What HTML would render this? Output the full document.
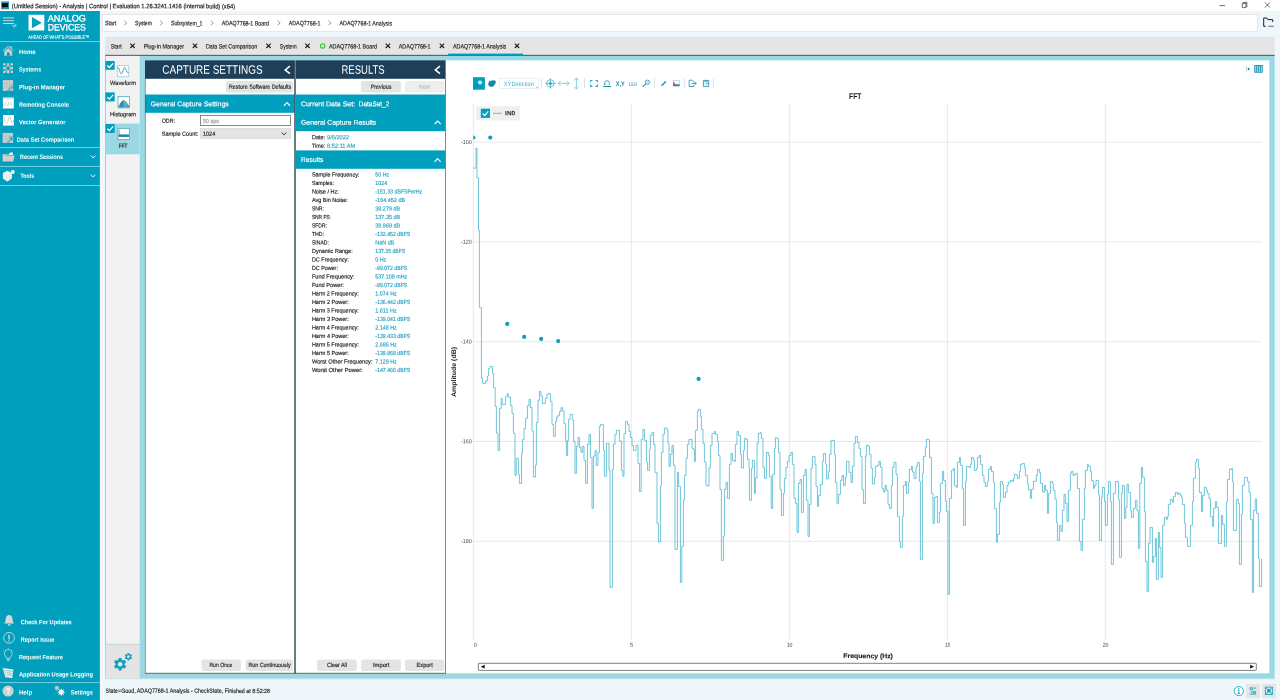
<!DOCTYPE html>
<html lang="en"><head><meta charset="utf-8"><title>(Untitled Session) - Analysis | Control | Evaluation</title>
<style>html,body{margin:0;padding:0;width:1280px;height:700px;overflow:hidden;background:#eff7fa}svg{display:block;font-family:"Liberation Sans",sans-serif}text{white-space:pre;text-rendering:geometricPrecision}</style></head><body>
<svg width="1280" height="700" viewBox="0 0 1280 700">
<rect x="0.00" y="0.00" width="1280.00" height="700.00" fill="#eff7fa" />
<rect x="0.00" y="0.00" width="1280.00" height="11.00" fill="#ffffff" />
<rect x="1.10" y="1.40" width="7.90" height="7.90" fill="#2d9ab8" />
<rect x="2.00" y="3.20" width="6.10" height="4.00" fill="#0a0a0a" />
<text x="11.80" y="8.21" transform="rotate(0.05 11.8 8.2)" font-size="6.3" fill="#111" stroke="#111" stroke-width="0.16" textLength="223.40" lengthAdjust="spacingAndGlyphs" >(Untitled Session) - Analysis | Control | Evaluation 1.26.3241.1416 (internal build) (x64)</text>
<line x1="1219.40" y1="5.60" x2="1225.10" y2="5.60" stroke="#333" stroke-width="0.7" />
<path d="M1242.300 3.400h3.600v4.200h-3.600z M1243.300 3.400v-1h3.600v4.200h-1" fill="none" stroke="#333" stroke-width="0.7"/>
<path d="M1264.900 2.400l5 5.200 M1269.900 2.400l-5 5.200" fill="none" stroke="#333" stroke-width="0.7"/>
<rect x="0.00" y="11.00" width="99.90" height="689.00" fill="#009fbd" />
<line x1="3.00" y1="17.90" x2="14.20" y2="17.90" stroke="#dcd2d2" stroke-width="1.0" />
<line x1="3.00" y1="20.70" x2="14.20" y2="20.70" stroke="#dcd2d2" stroke-width="1.0" />
<line x1="3.00" y1="23.50" x2="14.20" y2="23.50" stroke="#dcd2d2" stroke-width="1.0" />
<path d="M11.800 25.400h4.600l-1.400-1.200 M16.400 25.400l-1.400 1.400h-2" fill="none" stroke="#dcd2d2" stroke-width="0.7"/>
<rect x="28.50" y="14.80" width="15.80" height="15.70" fill="#ffffff" />
<path d="M31.900 17.100L41.800 22.650L31.900 28.200z" fill="#009fbd"/>
<text x="47.70" y="21.52" transform="rotate(0.05 47.7 21.5)" font-size="9.4" fill="#fff" textLength="38.20" lengthAdjust="spacingAndGlyphs" stroke="#fff" stroke-width="0.3">ANALOG</text>
<text x="47.70" y="30.52" transform="rotate(0.05 47.7 30.5)" font-size="9.4" fill="#fff" textLength="38.20" lengthAdjust="spacingAndGlyphs" stroke="#fff" stroke-width="0.3">DEVICES</text>
<text x="28.20" y="38.75" transform="rotate(0.05 28.2 38.7)" font-size="4.6" fill="#e6f5f8" stroke="#e6f5f8" stroke-width="0.16" textLength="61.00" lengthAdjust="spacingAndGlyphs" >AHEAD OF WHAT’S POSSIBLE™</text>
<line x1="0.00" y1="41.60" x2="99.90" y2="41.60" stroke="#86d2e0" stroke-width="0.9" />
<text x="18.90" y="53.96" transform="rotate(0.05 18.9 54.0)" font-size="6.3" fill="#ffffff" font-weight="700" textLength="16.80" lengthAdjust="spacingAndGlyphs" >Home</text>
<text x="18.90" y="71.56" transform="rotate(0.05 18.9 71.6)" font-size="6.3" fill="#ffffff" font-weight="700" textLength="22.30" lengthAdjust="spacingAndGlyphs" >Systems</text>
<text x="19.00" y="89.16" transform="rotate(0.05 19.0 89.2)" font-size="6.3" fill="#ffffff" font-weight="700" textLength="46.10" lengthAdjust="spacingAndGlyphs" >Plug-in Manager</text>
<text x="18.90" y="106.66" transform="rotate(0.05 18.9 106.7)" font-size="6.3" fill="#ffffff" font-weight="700" textLength="50.10" lengthAdjust="spacingAndGlyphs" >Remoting Console</text>
<text x="18.90" y="124.16" transform="rotate(0.05 18.9 124.2)" font-size="6.3" fill="#ffffff" font-weight="700" textLength="46.60" lengthAdjust="spacingAndGlyphs" >Vector Generator</text>
<text x="16.70" y="141.66" transform="rotate(0.05 16.7 141.7)" font-size="6.3" fill="#ffffff" font-weight="700" textLength="57.60" lengthAdjust="spacingAndGlyphs" >Data Set Comparison</text>
<line x1="0.00" y1="147.50" x2="99.90" y2="147.50" stroke="#86d2e0" stroke-width="0.9" />
<text x="20.10" y="158.96" transform="rotate(0.05 20.1 159.0)" font-size="6.3" fill="#ffffff" font-weight="700" textLength="42.80" lengthAdjust="spacingAndGlyphs" >Recent Sessions</text>
<line x1="0.00" y1="166.40" x2="99.90" y2="166.40" stroke="#86d2e0" stroke-width="0.9" />
<text x="20.50" y="178.06" transform="rotate(0.05 20.5 178.1)" font-size="6.3" fill="#ffffff" font-weight="700" textLength="13.80" lengthAdjust="spacingAndGlyphs" >Tools</text>
<line x1="0.00" y1="185.50" x2="99.90" y2="185.50" stroke="#86d2e0" stroke-width="0.9" />
<path d="M91 155.60l2.2 2.4l2.2-2.4" fill="none" stroke="#fff" stroke-width="0.9"/>
<path d="M91 174.70l2.2 2.4l2.2-2.4" fill="none" stroke="#fff" stroke-width="0.9"/>
<text x="20.70" y="624.26" transform="rotate(0.05 20.7 624.3)" font-size="6.3" fill="#ffffff" font-weight="700" textLength="51.00" lengthAdjust="spacingAndGlyphs" >Check For Updates</text>
<text x="20.70" y="641.76" transform="rotate(0.05 20.7 641.8)" font-size="6.3" fill="#ffffff" font-weight="700" textLength="33.70" lengthAdjust="spacingAndGlyphs" >Report Issue</text>
<text x="18.90" y="659.16" transform="rotate(0.05 18.9 659.2)" font-size="6.3" fill="#ffffff" font-weight="700" textLength="44.00" lengthAdjust="spacingAndGlyphs" >Request Feature</text>
<text x="18.90" y="676.56" transform="rotate(0.05 18.9 676.6)" font-size="6.3" fill="#ffffff" font-weight="700" textLength="74.00" lengthAdjust="spacingAndGlyphs" >Application Usage Logging</text>
<line x1="0.00" y1="682.60" x2="99.90" y2="682.60" stroke="#86d2e0" stroke-width="0.9" />
<text x="18.90" y="694.46" transform="rotate(0.05 18.9 694.5)" font-size="6.3" fill="#ffffff" font-weight="700" textLength="13.30" lengthAdjust="spacingAndGlyphs" >Help</text>
<text x="70.70" y="694.46" transform="rotate(0.05 70.7 694.5)" font-size="6.3" fill="#ffffff" font-weight="700" textLength="22.20" lengthAdjust="spacingAndGlyphs" >Settings</text>
<path d="M2.9 50.6L8.3 46.3L13.7 50.6" fill="none" stroke="#d4cbcb" stroke-width="1"/>
<path d="M4.3 51.2L8.3 48.1L12.2 51.2V55.7H9.7V52.4H6.9V55.7H4.3z" fill="#d4cbcb"/>
<rect x="10.60" y="46.20" width="1.20" height="2.40" fill="#d4cbcb" />
<rect x="3.20" y="63.20" width="2.40" height="2.40" fill="#d4cbcb" />
<rect x="6.90" y="63.20" width="2.40" height="2.40" fill="#d4cbcb" />
<rect x="10.60" y="63.20" width="2.40" height="2.40" fill="#d4cbcb" />
<rect x="3.20" y="66.90" width="2.40" height="2.40" fill="#d4cbcb" />
<rect x="10.60" y="66.90" width="2.40" height="2.40" fill="#d4cbcb" />
<rect x="3.20" y="70.60" width="2.40" height="2.40" fill="#d4cbcb" />
<rect x="6.90" y="70.90" width="2.40" height="2.40" fill="#d4cbcb" />
<rect x="10.60" y="70.60" width="2.40" height="2.40" fill="#d4cbcb" />
<circle cx="8.1" cy="68.3" r="2.3" fill="none" stroke="#d4cbcb" stroke-width="0.9"/>
<path d="M3.2 73.4l4-3" stroke="#d4cbcb" stroke-width="0.8" fill="none"/>
<rect x="2.80" y="80.10" width="10.30" height="10.80" fill="#d2c9c9" />
<path d="M6.300 80.100v10.800 M9.700 80.100v10.800 M2.800 83.500h10.300 M2.800 87h10.300" stroke="#8fc4cf" stroke-width="0.45" fill="none"/>
<path d="M8.300 91l4.800-5.800" stroke="#009fbd" stroke-width="2.200" fill="none"/>
<path d="M8.500 90.700l4.500-5.400" stroke="#f3eeee" stroke-width="0.9" fill="none"/>
<rect x="2.90" y="97.60" width="10.90" height="10.90" fill="#ffffff" />
<rect x="2.90" y="97.60" width="10.90" height="1.60" fill="#e3d9d9" />
<path d="M6.3 102.6l-1.6 1.4l1.6 1.4 M10.4 102.6l1.6 1.4l-1.6 1.4 M9 102.2l-1.3 3.8" stroke="#a9a9a9" stroke-width="0.6" fill="none"/>
<rect x="3.00" y="115.00" width="10.90" height="10.60" fill="#ffffff" />
<path d="M3.4 116.6C4.6 116.6 5 123.6 6.5 123.6S8.4 116.8 9.7 116.8S11.2 123.6 12.4 123.6S13.2 121 13.6 119.6" stroke="#bdbdbd" stroke-width="0.7" fill="none"/>
<rect x="2.60" y="132.90" width="10.50" height="10.00" fill="#d2c9c9" />
<path d="M6.100 132.900v10 M9.500 132.900v10 M2.600 136.200h10.500 M2.600 139.500h10.500" stroke="#8fc4cf" stroke-width="0.45" fill="none"/>
<circle cx="11.400" cy="138.600" r="2.300" fill="#009fbd"/>
<circle cx="11.400" cy="138.600" r="1.700" fill="none" stroke="#f3eeee" stroke-width="0.6"/>
<path d="M10 140.200l-2.800 2.900" stroke="#009fbd" stroke-width="1.600" fill="none"/>
<path d="M10 140.200l-2.800 2.900" stroke="#efe6e6" stroke-width="0.7" fill="none"/>
<path d="M2.7 154.4h6l1.4-2h2.8v2.6h-8.4z" fill="#efefef"/>
<path d="M2.6 154.6h2.6l.8.9h8.7l-1.6 6.1H2.6z" fill="#d2cfcf"/>
<path d="M7.4 170.7l4.4 2.2v5.6l-4.4 3.1l-4.5-3.1v-5.6z" fill="#f7f7f7"/>
<path d="M2.9 172.9l4.5 2.3l4.4-2.3 M7.4 175.2v6.4 M2.9 175.8l4.5 2.4l4.4-2.4 M5.1 171.8v8.6 M9.6 171.8v8.6" stroke="#d8d8d8" stroke-width="0.4" fill="none"/>
<circle cx="12.8" cy="172.0" r="2.0" fill="#f7f7f7"/><circle cx="12.8" cy="172.0" r="0.9" fill="#cfe6ea"/>
<path d="M4 623.4c1.6-1 1.5-2.9 1.7-4.6c.3-2.3 1.6-3.7 3.4-3.7s3.100 1.4 3.400 3.7c.2 1.700.1 3.600 1.700 4.600z" fill="#d9d9d9"/>
<path d="M7.6 624.2a1.500 1.500 0 0 0 3 0z" fill="#d9d9d9"/>
<circle cx="9.0" cy="637.8" r="5.4" fill="none" stroke="#e4e4e4" stroke-width="0.8"/>
<rect x="8.40" y="634.60" width="1.20" height="4.80" fill="#e4e4e4" />
<rect x="8.40" y="640.30" width="1.20" height="1.10" fill="#e4e4e4" />
<path d="M6.4 658.200c-.2-2-2-2.600-2-4.900a3.900 3.900 0 0 1 7.800 0c0 2.300-1.800 2.900-2 4.900z M6.700 659.400h3.200 M7.100 660.600h2.400" fill="none" stroke="#e4e4e4" stroke-width="0.7"/>
<path d="M3 650.400l.8.600 M13.400 650.400l-.8.600 M8.300 649v-.8" stroke="#cfe9ee" stroke-width="0.5" fill="none"/>
<path d="M4.6 668.300l8.800 1.300l-1.200 8.600l-5.800-1.100z" fill="#efefef"/>
<path d="M2.600 667.800l2.600.4l2.200 9.600l-2.200-.4z" fill="#d9d9d9"/>
<path d="M6.400 670.600l6 .8 M6.800 672.600l5.400.8 M7.200 674.600l4.800.8" stroke="#009fbd" stroke-width="0.5" fill="none"/>
<circle cx="8.1" cy="691.0" r="5.6" fill="#d0d0d0"/>
<text x="5.90" y="694.22" transform="rotate(0.05 5.9 694.2)" font-size="9" fill="#ffffff" font-weight="700" textLength="4.50" lengthAdjust="spacingAndGlyphs" >?</text>
<polygon points="56.90,685.00 57.51,686.52 59.02,685.88 58.38,687.39 59.90,688.00 58.38,688.61 59.02,690.12 57.51,689.48 56.90,691.00 56.29,689.48 54.78,690.12 55.42,688.61 53.90,688.00 55.42,687.39 54.78,685.88 56.29,686.52" fill="#c9c9c9"/>
<polygon points="61.20,688.20 62.04,690.17 64.03,689.37 63.23,691.36 65.20,692.20 63.23,693.04 64.03,695.03 62.04,694.23 61.20,696.20 60.36,694.23 58.37,695.03 59.17,693.04 57.20,692.20 59.17,691.36 58.37,689.37 60.36,690.17" fill="#f2f2f2"/>
<rect x="102.60" y="14.60" width="1155.10" height="16.60" fill="#ffffff" stroke="#d9d9d9" stroke-width="0.6" />
<text x="105.00" y="25.36" transform="rotate(0.05 105.0 25.4)" font-size="6.3" fill="#222" stroke="#222" stroke-width="0.16" textLength="11.10" lengthAdjust="spacingAndGlyphs" >Start</text>
<path d="M124.30 20.6l2.3 2.3l-2.3 2.3" fill="none" stroke="#444" stroke-width="0.6"/>
<text x="135.00" y="25.36" transform="rotate(0.05 135.0 25.4)" font-size="6.3" fill="#222" stroke="#222" stroke-width="0.16" textLength="16.90" lengthAdjust="spacingAndGlyphs" >System</text>
<path d="M160.20 20.6l2.3 2.3l-2.3 2.3" fill="none" stroke="#444" stroke-width="0.6"/>
<text x="171.00" y="25.36" transform="rotate(0.05 171.0 25.4)" font-size="6.3" fill="#222" stroke="#222" stroke-width="0.16" textLength="31.50" lengthAdjust="spacingAndGlyphs" >Subsystem_1</text>
<path d="M210.90 20.6l2.3 2.3l-2.3 2.3" fill="none" stroke="#444" stroke-width="0.6"/>
<text x="221.70" y="25.36" transform="rotate(0.05 221.7 25.4)" font-size="6.3" fill="#222" stroke="#222" stroke-width="0.16" textLength="47.20" lengthAdjust="spacingAndGlyphs" >ADAQ7768-1 Board</text>
<path d="M277.80 20.6l2.3 2.3l-2.3 2.3" fill="none" stroke="#444" stroke-width="0.6"/>
<text x="288.70" y="25.36" transform="rotate(0.05 288.7 25.4)" font-size="6.3" fill="#222" stroke="#222" stroke-width="0.16" textLength="31.70" lengthAdjust="spacingAndGlyphs" >ADAQ7768-1</text>
<path d="M328.60 20.6l2.3 2.3l-2.3 2.3" fill="none" stroke="#444" stroke-width="0.6"/>
<text x="339.50" y="25.36" transform="rotate(0.05 339.5 25.4)" font-size="6.3" fill="#222" stroke="#222" stroke-width="0.16" textLength="52.60" lengthAdjust="spacingAndGlyphs" >ADAQ7768-1 Analysis</text>
<path d="M1263.700 26.300v-8.300h3.200l1 1.600h4.800v2.400 M1263.700 26.300h2" fill="none" stroke="#1a2230" stroke-width="1"/>
<path d="M1268.600 26.300h5.600" fill="none" stroke="#1a2230" stroke-width="1.100" stroke-dasharray="1.200 0.700"/>
<rect x="105.30" y="36.90" width="1169.30" height="18.10" fill="#e5e5e5" />
<text x="110.70" y="48.46" transform="rotate(0.05 110.7 48.5)" font-size="6.3" fill="#222" stroke="#222" stroke-width="0.16" textLength="11.00" lengthAdjust="spacingAndGlyphs" >Start</text>
<path d="M130.30 43.6l4.4 4.4 M134.70 43.6l-4.4 4.4" fill="none" stroke="#1a1a1a" stroke-width="1.1"/>
<text x="143.70" y="48.46" transform="rotate(0.05 143.7 48.5)" font-size="6.3" fill="#222" stroke="#222" stroke-width="0.16" textLength="40.40" lengthAdjust="spacingAndGlyphs" >Plug-In Manager</text>
<path d="M192.80 43.6l4.4 4.4 M197.20 43.6l-4.4 4.4" fill="none" stroke="#1a1a1a" stroke-width="1.1"/>
<text x="206.00" y="48.46" transform="rotate(0.05 206.0 48.5)" font-size="6.3" fill="#222" stroke="#222" stroke-width="0.16" textLength="51.20" lengthAdjust="spacingAndGlyphs" >Data Set Comparison</text>
<path d="M266.30 43.6l4.4 4.4 M270.70 43.6l-4.4 4.4" fill="none" stroke="#1a1a1a" stroke-width="1.1"/>
<text x="279.80" y="48.46" transform="rotate(0.05 279.8 48.5)" font-size="6.3" fill="#222" stroke="#222" stroke-width="0.16" textLength="16.80" lengthAdjust="spacingAndGlyphs" >System</text>
<path d="M305.30 43.6l4.4 4.4 M309.70 43.6l-4.4 4.4" fill="none" stroke="#1a1a1a" stroke-width="1.1"/>
<circle cx="322.6" cy="45.9" r="2.2" fill="#c8f5c0" stroke="#35c335" stroke-width="1.1"/>
<text x="328.90" y="48.46" transform="rotate(0.05 328.9 48.5)" font-size="6.3" fill="#222" stroke="#222" stroke-width="0.16" textLength="48.10" lengthAdjust="spacingAndGlyphs" >ADAQ7768-1 Board</text>
<path d="M385.70 43.6l4.4 4.4 M390.10 43.6l-4.4 4.4" fill="none" stroke="#1a1a1a" stroke-width="1.1"/>
<text x="398.80" y="48.46" transform="rotate(0.05 398.8 48.5)" font-size="6.3" fill="#222" stroke="#222" stroke-width="0.16" textLength="31.80" lengthAdjust="spacingAndGlyphs" >ADAQ7768-1</text>
<path d="M439.80 43.6l4.4 4.4 M444.20 43.6l-4.4 4.4" fill="none" stroke="#1a1a1a" stroke-width="1.1"/>
<text x="453.00" y="48.46" transform="rotate(0.05 453.0 48.5)" font-size="6.3" fill="#222" stroke="#222" stroke-width="0.16" textLength="53.30" lengthAdjust="spacingAndGlyphs" >ADAQ7768-1 Analysis</text>
<path d="M514.80 43.6l4.4 4.4 M519.20 43.6l-4.4 4.4" fill="none" stroke="#1a1a1a" stroke-width="1.1"/>
<rect x="105.30" y="678.20" width="1169.60" height="1.10" fill="#d5e3e8" />
<rect x="105.30" y="55.00" width="1169.30" height="623.50" fill="#9ad9e3" />
<rect x="105.50" y="55.00" width="34.20" height="589.30" fill="#f2f2f2" />
<line x1="105.50" y1="55.50" x2="105.50" y2="678.00" stroke="#a8a8a8" stroke-width="0.6" />
<rect x="105.60" y="123.60" width="34.00" height="30.70" fill="#9ad9e3" />
<rect x="105.50" y="644.30" width="34.20" height="34.20" fill="#e4e4e4" />
<line x1="105.60" y1="644.30" x2="139.60" y2="644.30" stroke="#c4c4c4" stroke-width="0.6" />
<rect x="105.40" y="61.00" width="9.30" height="8.80" fill="#009fbd" />
<path d="M107.26 65.58L109.31 67.51L113.21 63.38" fill="none" stroke="#fff" stroke-width="1.25"/>
<rect x="117.40" y="65.50" width="11.30" height="11.20" fill="#ffffff" stroke="#2a91ae" stroke-width="0.5" stroke-dasharray="1.1 0.5"/>
<path d="M117.6 67.4C119.4 67.4 119.6 73.6 121.3 73.6S123.2 67.6 124.7 67.6S126.600 73.6 128.400 72.6" fill="none" stroke="#2a91ae" stroke-width="0.9"/>
<text x="110.00" y="84.98" transform="rotate(0.05 110.0 85.0)" font-size="6.1" fill="#222" stroke="#222" stroke-width="0.16" textLength="26.00" lengthAdjust="spacingAndGlyphs" >Waveform</text>
<rect x="105.40" y="92.40" width="9.30" height="9.00" fill="#009fbd" />
<path d="M107.26 97.08L109.31 99.06L113.21 94.83" fill="none" stroke="#fff" stroke-width="1.25"/>
<rect x="118.00" y="96.30" width="11.50" height="11.60" fill="#ffffff" stroke="#2a91ae" stroke-width="0.6" />
<rect x="118.70" y="104.74" width="1.05" height="2.76" fill="#1f88a6" />
<rect x="119.84" y="102.90" width="1.05" height="4.60" fill="#1f88a6" />
<rect x="120.98" y="101.43" width="1.05" height="6.07" fill="#1f88a6" />
<rect x="122.12" y="100.51" width="1.05" height="6.99" fill="#1f88a6" />
<rect x="123.26" y="100.23" width="1.05" height="7.27" fill="#1f88a6" />
<rect x="124.40" y="100.69" width="1.05" height="6.81" fill="#1f88a6" />
<rect x="125.54" y="101.80" width="1.05" height="5.70" fill="#1f88a6" />
<rect x="126.68" y="103.45" width="1.05" height="4.05" fill="#1f88a6" />
<rect x="127.82" y="104.92" width="1.05" height="2.58" fill="#1f88a6" />
<text x="110.00" y="116.28" transform="rotate(0.05 110.0 116.3)" font-size="6.1" fill="#222" stroke="#222" stroke-width="0.16" textLength="26.10" lengthAdjust="spacingAndGlyphs" >Histogram</text>
<rect x="105.40" y="124.00" width="9.30" height="8.90" fill="#009fbd" />
<path d="M107.26 128.63L109.31 130.59L113.21 126.40" fill="none" stroke="#fff" stroke-width="1.25"/>
<rect x="118.00" y="128.30" width="11.50" height="11.40" fill="#ffffff" stroke="#2a91ae" stroke-width="0.6" />
<path d="M118.6 136.600v-1.800l.8-.3l.7.500l.900-.600l.900.500l.800-.400l.900.500l.900-.600l.900.400l.900-.400l.900.500l.900-.400l.900.300v1.800z" fill="#2a91ae"/>
<path d="M119.600 129.600v5.200" stroke="#2a91ae" stroke-width="0.6" fill="none"/>
<rect x="118.60" y="134.60" width="10.40" height="2.30" fill="#1f88a6" />
<rect x="118.60" y="137.60" width="10.40" height="0.80" fill="#ffffff" />
<text x="118.80" y="147.98" transform="rotate(0.05 118.8 148.0)" font-size="6.1" fill="#222" stroke="#222" stroke-width="0.16" textLength="8.70" lengthAdjust="spacingAndGlyphs" >FFT</text>
<polygon points="118.37,659.83 118.77,657.94 121.43,657.94 121.83,659.83 123.02,660.52 124.86,659.92 126.19,662.22 124.75,663.51 124.75,664.89 126.19,666.18 124.86,668.48 123.02,667.88 121.83,668.57 121.43,670.46 118.77,670.46 118.37,668.57 117.18,667.88 115.34,668.48 114.01,666.18 115.45,664.89 115.45,663.51 114.01,662.22 115.34,659.92 117.18,660.52" fill="#12a0c2"/>
<circle cx="120.1" cy="664.2" r="2.3" fill="#e4e4e4"/>
<polygon points="127.37,654.10 127.61,652.98 129.19,652.98 129.43,654.10 130.14,654.51 131.22,654.16 132.01,655.53 131.17,656.29 131.17,657.11 132.01,657.87 131.22,659.24 130.14,658.89 129.43,659.30 129.19,660.42 127.61,660.42 127.37,659.30 126.66,658.89 125.58,659.24 124.79,657.87 125.63,657.11 125.63,656.29 124.79,655.53 125.58,654.16 126.66,654.51" fill="#12a0c2"/>
<circle cx="128.4" cy="656.7" r="1.4" fill="#e4e4e4"/>
<line x1="105.30" y1="55.35" x2="1274.60" y2="55.35" stroke="#39454c" stroke-width="0.9" />
<rect x="448.00" y="53.60" width="75.00" height="2.00" fill="#009fbd" />
<rect x="145.00" y="60.40" width="149.60" height="612.80" fill="#ffffff" />
<rect x="145.00" y="60.30" width="149.60" height="18.50" fill="#1e3f59" />
<text x="162.30" y="73.77" transform="rotate(0.05 162.3 73.8)" font-size="12.2" fill="#ffffff" textLength="100.30" lengthAdjust="spacingAndGlyphs" >CAPTURE SETTINGS</text>
<path d="M289.9 66.2l-4.700 3.700l4.700 3.700" fill="none" stroke="#fff" stroke-width="1.5"/>
<rect x="226.00" y="81.10" width="66.90" height="11.30" fill="#e4e4e4" rx="2.6" />
<text x="229.00" y="88.64" transform="rotate(0.05 229.0 88.6)" font-size="6.0" fill="#222" stroke="#222" stroke-width="0.16" textLength="62.20" lengthAdjust="spacingAndGlyphs" >Restore Software Defaults</text>
<rect x="145.00" y="94.50" width="149.60" height="18.30" fill="#009fbd" />
<text x="150.70" y="106.29" transform="rotate(0.05 150.7 106.3)" font-size="6.9" fill="#ffffff" stroke="#ffffff" stroke-width="0.16" textLength="78.00" lengthAdjust="spacingAndGlyphs" >General Capture Settings</text>
<path d="M283.90 105.80l3.1-3.1l3.1 3.1" fill="none" stroke="#fff" stroke-width="1.2"/>
<text x="161.70" y="122.80" transform="rotate(0.05 161.7 122.8)" font-size="5.9" fill="#222" stroke="#222" stroke-width="0.16" textLength="13.40" lengthAdjust="spacingAndGlyphs" >ODR:</text>
<rect x="200.50" y="115.30" width="90.10" height="10.20" fill="#ffffff" stroke="#555" stroke-width="0.7" />
<text x="203.00" y="122.90" transform="rotate(0.05 203.0 122.9)" font-size="5.9" fill="#999" stroke="#999" stroke-width="0.16" textLength="16.00" lengthAdjust="spacingAndGlyphs" >50 sps</text>
<text x="161.70" y="135.70" transform="rotate(0.05 161.7 135.7)" font-size="5.9" fill="#222" stroke="#222" stroke-width="0.16" textLength="36.70" lengthAdjust="spacingAndGlyphs" >Sample Count:</text>
<rect x="200.30" y="128.40" width="90.50" height="10.20" fill="#e4e4e4" stroke="#cfcfcf" stroke-width="0.5" />
<text x="203.00" y="135.80" transform="rotate(0.05 203.0 135.8)" font-size="5.9" fill="#222" stroke="#222" stroke-width="0.16" textLength="12.20" lengthAdjust="spacingAndGlyphs" >1024</text>
<path d="M281.700 132.600l2.300 2.300l2.300-2.300" fill="none" stroke="#222" stroke-width="0.9"/>
<rect x="201.40" y="659.50" width="39.50" height="11.40" fill="#e4e4e4" rx="2.6" />
<text x="209.40" y="667.09" transform="rotate(0.05 209.4 667.1)" font-size="6.0" fill="#222" stroke="#222" stroke-width="0.16" textLength="22.90" lengthAdjust="spacingAndGlyphs" >Run Once</text>
<rect x="245.60" y="659.50" width="47.50" height="11.40" fill="#e4e4e4" rx="2.6" />
<text x="248.40" y="667.09" transform="rotate(0.05 248.4 667.1)" font-size="6.0" fill="#222" stroke="#222" stroke-width="0.16" textLength="42.20" lengthAdjust="spacingAndGlyphs" >Run Continuously</text>
<line x1="145.35" y1="78.80" x2="145.35" y2="673.40" stroke="#555" stroke-width="0.6" />
<line x1="294.55" y1="60.40" x2="294.55" y2="673.40" stroke="#16252e" stroke-width="0.6" />
<line x1="295.50" y1="60.40" x2="295.50" y2="673.40" stroke="#777" stroke-width="1.2" />
<rect x="296.00" y="60.40" width="149.20" height="612.80" fill="#ffffff" />
<rect x="296.00" y="60.30" width="149.20" height="18.50" fill="#1e3f59" />
<text x="341.50" y="73.77" transform="rotate(0.05 341.5 73.8)" font-size="12.2" fill="#ffffff" textLength="43.20" lengthAdjust="spacingAndGlyphs" >RESULTS</text>
<path d="M440.0 66.2l-4.700 3.700l4.700 3.700" fill="none" stroke="#fff" stroke-width="1.5"/>
<rect x="360.90" y="81.10" width="40.00" height="11.30" fill="#e4e4e4" rx="2.6" />
<text x="370.80" y="88.64" transform="rotate(0.05 370.8 88.6)" font-size="6.0" fill="#222" stroke="#222" stroke-width="0.16" textLength="20.60" lengthAdjust="spacingAndGlyphs" >Previous</text>
<rect x="405.00" y="81.10" width="39.30" height="11.30" fill="#eeeeee" rx="2.6" />
<text x="418.80" y="88.64" transform="rotate(0.05 418.8 88.6)" font-size="6.0" fill="#bdbdbd" stroke="#bdbdbd" stroke-width="0.16" textLength="11.20" lengthAdjust="spacingAndGlyphs" >Next</text>
<rect x="296.00" y="94.50" width="149.20" height="36.70" fill="#009fbd" />
<text x="301.00" y="106.29" transform="rotate(0.05 301.0 106.3)" font-size="6.9" fill="#ffffff" stroke="#ffffff" stroke-width="0.16" textLength="54.00" lengthAdjust="spacingAndGlyphs" >Current Data Set:</text>
<text x="358.80" y="106.29" transform="rotate(0.05 358.8 106.3)" font-size="6.9" fill="#ffffff" stroke="#ffffff" stroke-width="0.16" textLength="30.50" lengthAdjust="spacingAndGlyphs" >DataSet_2</text>
<text x="301.00" y="124.69" transform="rotate(0.05 301.0 124.7)" font-size="6.9" fill="#ffffff" stroke="#ffffff" stroke-width="0.16" textLength="75.30" lengthAdjust="spacingAndGlyphs" >General Capture Results</text>
<path d="M434.50 124.20l3.1-3.1l3.1 3.1" fill="none" stroke="#fff" stroke-width="1.2"/>
<text x="311.90" y="139.30" transform="rotate(0.05 311.9 139.3)" font-size="5.9" fill="#222" stroke="#222" stroke-width="0.16" textLength="13.30" lengthAdjust="spacingAndGlyphs" >Date:</text>
<text x="327.10" y="139.30" transform="rotate(0.05 327.1 139.3)" font-size="5.9" fill="#2aa3c1" stroke="#2aa3c1" stroke-width="0.16" textLength="21.90" lengthAdjust="spacingAndGlyphs" >9/6/2022</text>
<text x="311.90" y="147.80" transform="rotate(0.05 311.9 147.8)" font-size="5.9" fill="#222" stroke="#222" stroke-width="0.16" textLength="13.30" lengthAdjust="spacingAndGlyphs" >Time:</text>
<text x="327.10" y="147.80" transform="rotate(0.05 327.1 147.8)" font-size="5.9" fill="#2aa3c1" stroke="#2aa3c1" stroke-width="0.16" textLength="28.10" lengthAdjust="spacingAndGlyphs" >8:52:11 AM</text>
<rect x="296.00" y="150.40" width="149.20" height="18.40" fill="#009fbd" />
<text x="301.00" y="162.09" transform="rotate(0.05 301.0 162.1)" font-size="6.9" fill="#ffffff" stroke="#ffffff" stroke-width="0.16" textLength="22.40" lengthAdjust="spacingAndGlyphs" >Results</text>
<path d="M434.50 161.80l3.1-3.1l3.1 3.1" fill="none" stroke="#fff" stroke-width="1.2"/>
<text x="311.90" y="176.60" transform="rotate(0.05 311.9 176.6)" font-size="5.9" fill="#222" stroke="#222" stroke-width="0.16" textLength="47.50" lengthAdjust="spacingAndGlyphs" >Sample Frequency:</text>
<text x="375.30" y="176.60" transform="rotate(0.05 375.3 176.6)" font-size="5.9" fill="#2aa3c1" stroke="#2aa3c1" stroke-width="0.16" textLength="13.80" lengthAdjust="spacingAndGlyphs" >50 Hz</text>
<text x="311.90" y="185.09" transform="rotate(0.05 311.9 185.1)" font-size="5.9" fill="#222" stroke="#222" stroke-width="0.16" textLength="22.00" lengthAdjust="spacingAndGlyphs" >Samples:</text>
<text x="375.30" y="185.09" transform="rotate(0.05 375.3 185.1)" font-size="5.9" fill="#2aa3c1" stroke="#2aa3c1" stroke-width="0.16" textLength="11.80" lengthAdjust="spacingAndGlyphs" >1024</text>
<text x="311.90" y="193.59" transform="rotate(0.05 311.9 193.6)" font-size="5.9" fill="#222" stroke="#222" stroke-width="0.16" textLength="26.80" lengthAdjust="spacingAndGlyphs" >Noise / Hz:</text>
<text x="375.30" y="193.59" transform="rotate(0.05 375.3 193.6)" font-size="5.9" fill="#2aa3c1" stroke="#2aa3c1" stroke-width="0.16" textLength="46.80" lengthAdjust="spacingAndGlyphs" >-151.33 dBFSPerHz</text>
<text x="311.90" y="202.08" transform="rotate(0.05 311.9 202.1)" font-size="5.9" fill="#222" stroke="#222" stroke-width="0.16" textLength="36.00" lengthAdjust="spacingAndGlyphs" >Avg Bin Noise:</text>
<text x="375.30" y="202.08" transform="rotate(0.05 375.3 202.1)" font-size="5.9" fill="#2aa3c1" stroke="#2aa3c1" stroke-width="0.16" textLength="29.80" lengthAdjust="spacingAndGlyphs" >-164.452 dB</text>
<text x="311.90" y="210.57" transform="rotate(0.05 311.9 210.6)" font-size="5.9" fill="#222" stroke="#222" stroke-width="0.16" textLength="12.00" lengthAdjust="spacingAndGlyphs" >SNR:</text>
<text x="375.30" y="210.57" transform="rotate(0.05 375.3 210.6)" font-size="5.9" fill="#2aa3c1" stroke="#2aa3c1" stroke-width="0.16" textLength="24.80" lengthAdjust="spacingAndGlyphs" >38.279 dB</text>
<text x="311.90" y="219.07" transform="rotate(0.05 311.9 219.1)" font-size="5.9" fill="#222" stroke="#222" stroke-width="0.16" textLength="19.00" lengthAdjust="spacingAndGlyphs" >SNR FS:</text>
<text x="375.30" y="219.07" transform="rotate(0.05 375.3 219.1)" font-size="5.9" fill="#2aa3c1" stroke="#2aa3c1" stroke-width="0.16" textLength="24.80" lengthAdjust="spacingAndGlyphs" >137.35 dB</text>
<text x="311.90" y="227.56" transform="rotate(0.05 311.9 227.6)" font-size="5.9" fill="#222" stroke="#222" stroke-width="0.16" textLength="15.00" lengthAdjust="spacingAndGlyphs" >SFDR:</text>
<text x="375.30" y="227.56" transform="rotate(0.05 375.3 227.6)" font-size="5.9" fill="#2aa3c1" stroke="#2aa3c1" stroke-width="0.16" textLength="24.80" lengthAdjust="spacingAndGlyphs" >39.969 dB</text>
<text x="311.90" y="236.05" transform="rotate(0.05 311.9 236.1)" font-size="5.9" fill="#222" stroke="#222" stroke-width="0.16" textLength="12.20" lengthAdjust="spacingAndGlyphs" >THD:</text>
<text x="375.30" y="236.05" transform="rotate(0.05 375.3 236.1)" font-size="5.9" fill="#2aa3c1" stroke="#2aa3c1" stroke-width="0.16" textLength="35.00" lengthAdjust="spacingAndGlyphs" >-132.452 dBFS</text>
<text x="311.90" y="244.55" transform="rotate(0.05 311.9 244.5)" font-size="5.9" fill="#222" stroke="#222" stroke-width="0.16" textLength="17.00" lengthAdjust="spacingAndGlyphs" >SINAD:</text>
<text x="375.30" y="244.55" transform="rotate(0.05 375.3 244.5)" font-size="5.9" fill="#2aa3c1" stroke="#2aa3c1" stroke-width="0.16" textLength="19.00" lengthAdjust="spacingAndGlyphs" >NaN dB</text>
<text x="311.90" y="253.04" transform="rotate(0.05 311.9 253.0)" font-size="5.9" fill="#222" stroke="#222" stroke-width="0.16" textLength="40.80" lengthAdjust="spacingAndGlyphs" >Dynamic Range:</text>
<text x="375.30" y="253.04" transform="rotate(0.05 375.3 253.0)" font-size="5.9" fill="#2aa3c1" stroke="#2aa3c1" stroke-width="0.16" textLength="30.00" lengthAdjust="spacingAndGlyphs" >137.35 dBFS</text>
<text x="311.90" y="261.53" transform="rotate(0.05 311.9 261.5)" font-size="5.9" fill="#222" stroke="#222" stroke-width="0.16" textLength="36.80" lengthAdjust="spacingAndGlyphs" >DC Frequency:</text>
<text x="375.30" y="261.53" transform="rotate(0.05 375.3 261.5)" font-size="5.9" fill="#2aa3c1" stroke="#2aa3c1" stroke-width="0.16" textLength="11.00" lengthAdjust="spacingAndGlyphs" >0 Hz</text>
<text x="311.90" y="270.02" transform="rotate(0.05 311.9 270.0)" font-size="5.9" fill="#222" stroke="#222" stroke-width="0.16" textLength="26.00" lengthAdjust="spacingAndGlyphs" >DC Power:</text>
<text x="375.30" y="270.02" transform="rotate(0.05 375.3 270.0)" font-size="5.9" fill="#2aa3c1" stroke="#2aa3c1" stroke-width="0.16" textLength="32.00" lengthAdjust="spacingAndGlyphs" >-99.072 dBFS</text>
<text x="311.90" y="278.52" transform="rotate(0.05 311.9 278.5)" font-size="5.9" fill="#222" stroke="#222" stroke-width="0.16" textLength="42.60" lengthAdjust="spacingAndGlyphs" >Fund Frequency:</text>
<text x="375.30" y="278.52" transform="rotate(0.05 375.3 278.5)" font-size="5.9" fill="#2aa3c1" stroke="#2aa3c1" stroke-width="0.16" textLength="32.00" lengthAdjust="spacingAndGlyphs" >537.109 mHz</text>
<text x="311.90" y="287.01" transform="rotate(0.05 311.9 287.0)" font-size="5.9" fill="#222" stroke="#222" stroke-width="0.16" textLength="32.00" lengthAdjust="spacingAndGlyphs" >Fund Power:</text>
<text x="375.30" y="287.01" transform="rotate(0.05 375.3 287.0)" font-size="5.9" fill="#2aa3c1" stroke="#2aa3c1" stroke-width="0.16" textLength="32.00" lengthAdjust="spacingAndGlyphs" >-99.072 dBFS</text>
<text x="311.90" y="295.50" transform="rotate(0.05 311.9 295.5)" font-size="5.9" fill="#222" stroke="#222" stroke-width="0.16" textLength="46.80" lengthAdjust="spacingAndGlyphs" >Harm 2 Frequency:</text>
<text x="375.30" y="295.50" transform="rotate(0.05 375.3 295.5)" font-size="5.9" fill="#2aa3c1" stroke="#2aa3c1" stroke-width="0.16" textLength="21.40" lengthAdjust="spacingAndGlyphs" >1.074 Hz</text>
<text x="311.90" y="304.00" transform="rotate(0.05 311.9 304.0)" font-size="5.9" fill="#222" stroke="#222" stroke-width="0.16" textLength="36.80" lengthAdjust="spacingAndGlyphs" >Harm 2 Power:</text>
<text x="375.30" y="304.00" transform="rotate(0.05 375.3 304.0)" font-size="5.9" fill="#2aa3c1" stroke="#2aa3c1" stroke-width="0.16" textLength="35.00" lengthAdjust="spacingAndGlyphs" >-136.442 dBFS</text>
<text x="311.90" y="312.49" transform="rotate(0.05 311.9 312.5)" font-size="5.9" fill="#222" stroke="#222" stroke-width="0.16" textLength="46.80" lengthAdjust="spacingAndGlyphs" >Harm 3 Frequency:</text>
<text x="375.30" y="312.49" transform="rotate(0.05 375.3 312.5)" font-size="5.9" fill="#2aa3c1" stroke="#2aa3c1" stroke-width="0.16" textLength="21.40" lengthAdjust="spacingAndGlyphs" >1.611 Hz</text>
<text x="311.90" y="320.98" transform="rotate(0.05 311.9 321.0)" font-size="5.9" fill="#222" stroke="#222" stroke-width="0.16" textLength="36.80" lengthAdjust="spacingAndGlyphs" >Harm 3 Power:</text>
<text x="375.30" y="320.98" transform="rotate(0.05 375.3 321.0)" font-size="5.9" fill="#2aa3c1" stroke="#2aa3c1" stroke-width="0.16" textLength="35.00" lengthAdjust="spacingAndGlyphs" >-139.041 dBFS</text>
<text x="311.90" y="329.47" transform="rotate(0.05 311.9 329.5)" font-size="5.9" fill="#222" stroke="#222" stroke-width="0.16" textLength="46.80" lengthAdjust="spacingAndGlyphs" >Harm 4 Frequency:</text>
<text x="375.30" y="329.47" transform="rotate(0.05 375.3 329.5)" font-size="5.9" fill="#2aa3c1" stroke="#2aa3c1" stroke-width="0.16" textLength="21.40" lengthAdjust="spacingAndGlyphs" >2.148 Hz</text>
<text x="311.90" y="337.97" transform="rotate(0.05 311.9 338.0)" font-size="5.9" fill="#222" stroke="#222" stroke-width="0.16" textLength="36.80" lengthAdjust="spacingAndGlyphs" >Harm 4 Power:</text>
<text x="375.30" y="337.97" transform="rotate(0.05 375.3 338.0)" font-size="5.9" fill="#2aa3c1" stroke="#2aa3c1" stroke-width="0.16" textLength="35.00" lengthAdjust="spacingAndGlyphs" >-139.433 dBFS</text>
<text x="311.90" y="346.46" transform="rotate(0.05 311.9 346.5)" font-size="5.9" fill="#222" stroke="#222" stroke-width="0.16" textLength="46.80" lengthAdjust="spacingAndGlyphs" >Harm 5 Frequency:</text>
<text x="375.30" y="346.46" transform="rotate(0.05 375.3 346.5)" font-size="5.9" fill="#2aa3c1" stroke="#2aa3c1" stroke-width="0.16" textLength="21.40" lengthAdjust="spacingAndGlyphs" >2.686 Hz</text>
<text x="311.90" y="354.95" transform="rotate(0.05 311.9 355.0)" font-size="5.9" fill="#222" stroke="#222" stroke-width="0.16" textLength="36.80" lengthAdjust="spacingAndGlyphs" >Harm 5 Power:</text>
<text x="375.30" y="354.95" transform="rotate(0.05 375.3 355.0)" font-size="5.9" fill="#2aa3c1" stroke="#2aa3c1" stroke-width="0.16" textLength="35.00" lengthAdjust="spacingAndGlyphs" >-139.868 dBFS</text>
<text x="311.90" y="363.45" transform="rotate(0.05 311.9 363.4)" font-size="5.9" fill="#222" stroke="#222" stroke-width="0.16" textLength="60.60" lengthAdjust="spacingAndGlyphs" >Worst Other Frequency:</text>
<text x="375.30" y="363.45" transform="rotate(0.05 375.3 363.4)" font-size="5.9" fill="#2aa3c1" stroke="#2aa3c1" stroke-width="0.16" textLength="21.40" lengthAdjust="spacingAndGlyphs" >7.129 Hz</text>
<text x="311.90" y="371.94" transform="rotate(0.05 311.9 371.9)" font-size="5.9" fill="#222" stroke="#222" stroke-width="0.16" textLength="50.80" lengthAdjust="spacingAndGlyphs" >Worst Other Power:</text>
<text x="375.30" y="371.94" transform="rotate(0.05 375.3 371.9)" font-size="5.9" fill="#2aa3c1" stroke="#2aa3c1" stroke-width="0.16" textLength="35.00" lengthAdjust="spacingAndGlyphs" >-147.466 dBFS</text>
<rect x="317.00" y="659.50" width="39.80" height="11.40" fill="#e4e4e4" rx="2.6" />
<text x="327.00" y="667.09" transform="rotate(0.05 327.0 667.1)" font-size="6.0" fill="#222" stroke="#222" stroke-width="0.16" textLength="20.00" lengthAdjust="spacingAndGlyphs" >Clear All</text>
<rect x="361.20" y="659.50" width="39.60" height="11.40" fill="#e4e4e4" rx="2.6" />
<text x="373.00" y="667.09" transform="rotate(0.05 373.0 667.1)" font-size="6.0" fill="#222" stroke="#222" stroke-width="0.16" textLength="16.40" lengthAdjust="spacingAndGlyphs" >Import</text>
<rect x="405.00" y="659.50" width="39.30" height="11.40" fill="#e4e4e4" rx="2.6" />
<text x="416.60" y="667.09" transform="rotate(0.05 416.6 667.1)" font-size="6.0" fill="#222" stroke="#222" stroke-width="0.16" textLength="16.20" lengthAdjust="spacingAndGlyphs" >Export</text>
<line x1="445.50" y1="60.40" x2="445.50" y2="673.40" stroke="#666" stroke-width="1.0" />
<line x1="145.00" y1="673.30" x2="446.00" y2="673.30" stroke="#3a3a3a" stroke-width="0.7" />
<rect x="445.80" y="60.40" width="823.50" height="612.90" fill="#ffffff" />
<text x="849.10" y="98.99" transform="rotate(0.05 849.1 99.0)" font-size="8.2" fill="#1a1a1a" font-weight="700" textLength="12.20" lengthAdjust="spacingAndGlyphs" >FFT</text>
<line x1="1246.40" y1="66.00" x2="1246.40" y2="72.00" stroke="#9fd0dc" stroke-width="0.7" />
<path d="M1243.400 67.500h1.400 M1243.400 70.500h1.400" stroke="#c5e3ea" stroke-width="0.5" fill="none"/>
<ellipse cx="1248.600" cy="69" rx="0.950" ry="1.150" fill="#0f7fa0"/>
<rect x="1254.20" y="65.10" width="8.60" height="7.70" fill="#2a95b3" rx="0.5" />
<line x1="1255.65" y1="65.90" x2="1255.65" y2="72.00" stroke="#d4ecf2" stroke-width="0.75" />
<line x1="1257.55" y1="65.90" x2="1257.55" y2="72.00" stroke="#d4ecf2" stroke-width="0.75" />
<line x1="1259.45" y1="65.90" x2="1259.45" y2="72.00" stroke="#d4ecf2" stroke-width="0.75" />
<line x1="1261.35" y1="65.90" x2="1261.35" y2="72.00" stroke="#d4ecf2" stroke-width="0.75" />
<rect x="473.00" y="77.20" width="11.90" height="12.50" fill="#009fbd" />
<circle cx="480.000" cy="82.500" r="1.800" fill="#e8f6f9" stroke="#ffffff" stroke-width="0.5"/><path d="M479.200 82.500h1.700" stroke="#1a90b0" stroke-width="0.5"/><path d="M478.600 84.100l-2.700 3" stroke="#0d708c" stroke-width="0.9" fill="none"/>
<path d="M488.300 84.800c-.3-1.500.700-3.500 1.700-4.300l.700 1.100l1.200-1.700l.900.900l1.300-1l.600 1.200l1-.2c.5 1.600-.5 3.900-2.100 5.200c-1.600 1.300-4.400 1.300-5.300-1.200z" fill="#1587a8"/>
<rect x="499.30" y="78.20" width="39.20" height="10.30" fill="#ffffff" stroke="#d9e6ee" stroke-width="0.6" />
<text x="503.80" y="85.91" transform="rotate(0.05 503.8 85.9)" font-size="6.3" fill="#3db0cb" textLength="30.10" lengthAdjust="spacingAndGlyphs" stroke="none">XYDirection</text>
<path d="M536.300 87.400h1.500" stroke="#1a90b0" stroke-width="0.6"/>
<line x1="541.40" y1="78.40" x2="541.40" y2="88.50" stroke="#d3d3db" stroke-width="0.7" />
<circle cx="550.400" cy="83.400" r="3.700" fill="none" stroke="#3aa5c1" stroke-width="0.7"/><circle cx="550.400" cy="83.400" r="1.500" fill="#3aa5c1"/><path d="M545.300 83.400h10.300 M550.400 78.200v10.500" stroke="#3aa5c1" stroke-width="0.7" fill="none"/>
<path d="M558.100 83.400h11 M560.600 80.900l-2.500 2.500l2.500 2.500 M566.600 80.900l2.500 2.500l-2.500 2.500" stroke="#62b9cf" stroke-width="0.7" fill="none"/>
<path d="M576.400 77.900v11.100 M574 80.400l2.400-2.500l2.400 2.500 M574 86.500l2.400 2.500l2.400-2.500" stroke="#62b9cf" stroke-width="0.7" fill="none"/>
<line x1="584.50" y1="78.40" x2="584.50" y2="88.50" stroke="#d3d3db" stroke-width="0.7" />
<path d="M590.500 82.300v-1.800h2 M595.500 80.500h2v1.800 M597.500 84.600v1.800h-2 M592.500 86.400h-2v-1.800" stroke="#3aa5c1" stroke-width="1.100" fill="none"/>
<path d="M604.700 85v-2a2.300 2.300 0 0 1 4.600 0v2" stroke="#3aa5c1" stroke-width="0.9" fill="none"/><path d="M603.100 86.500h7.800" stroke="#0f7f9f" stroke-width="0.9" fill="none"/><path d="M603.700 83.600l1 1.400l1.200-1.200" stroke="#3aa5c1" stroke-width="0.7" fill="none"/>
<text x="615.80" y="85.88" transform="rotate(0.05 615.8 85.9)" font-size="6.5" fill="#1a90b0" font-weight="700" textLength="9.00" lengthAdjust="spacingAndGlyphs" >X,Y</text>
<text x="628.70" y="85.89" transform="rotate(0.05 628.7 85.9)" font-size="5.0" fill="#4aafc8" font-weight="700" textLength="8.40" lengthAdjust="spacingAndGlyphs" >LEG</text>
<circle cx="647.500" cy="82.200" r="2.100" fill="none" stroke="#1a90b0" stroke-width="0.8"/><path d="M645.900 83.800l-3.300 2.800" stroke="#1a90b0" stroke-width="1.100" fill="none"/><path d="M646.500 82.200h2" stroke="#1a90b0" stroke-width="0.5"/>
<line x1="654.50" y1="78.40" x2="654.50" y2="88.50" stroke="#d3d3db" stroke-width="0.7" />
<path d="M661 86.300l.5-1.600l3.900-3.700l1 1.100l-3.900 3.700z" fill="#1a90b0"/>
<rect x="673.20" y="80.20" width="6.50" height="6.50" fill="#f4fafc" stroke="#8cc4d2" stroke-width="0.5" />
<rect x="673.40" y="84.40" width="6.20" height="1.50" fill="#2a6f9a" />
<path d="M673.400 81.600v3.600h2.600z" fill="#d9344a"/>
<line x1="684.30" y1="78.40" x2="684.30" y2="88.50" stroke="#d3d3db" stroke-width="0.7" />
<path d="M693.800 84.800v1.700h-4.600v-6.300h3.200l1.400 1.400v.8 M691.600 83.400h4.600 M694.700 81.900l1.600 1.500l-1.600 1.500" stroke="#1a90b0" stroke-width="0.8" fill="none"/>
<path d="M703.400 80.400h5.300v6.200h-5.300z" stroke="#1a90b0" stroke-width="0.8" fill="#e6f4f8"/><path d="M705 80.400v1.300h2.200v-1.300 M706.200 83.600h2.300" stroke="#1a90b0" stroke-width="0.7" fill="none"/>
<line x1="713.40" y1="78.40" x2="713.40" y2="88.50" stroke="#d3d3db" stroke-width="0.7" />
<line x1="473.30" y1="103.50" x2="473.30" y2="639.60" stroke="#dedede" stroke-width="0.7" />
<line x1="631.30" y1="103.50" x2="631.30" y2="639.60" stroke="#dedede" stroke-width="0.7" />
<line x1="789.30" y1="103.50" x2="789.30" y2="639.60" stroke="#dedede" stroke-width="0.7" />
<line x1="947.30" y1="103.50" x2="947.30" y2="639.60" stroke="#dedede" stroke-width="0.7" />
<line x1="1105.30" y1="103.50" x2="1105.30" y2="639.60" stroke="#dedede" stroke-width="0.7" />
<line x1="473.30" y1="142.20" x2="1261.70" y2="142.20" stroke="#dedede" stroke-width="0.7" />
<text x="471.70" y="143.98" transform="rotate(0.05 471.7 144.0)" font-size="5.8" fill="#4a4a4a" text-anchor="end" stroke="none" textLength="10.800" lengthAdjust="spacingAndGlyphs">-100</text>
<line x1="473.30" y1="241.96" x2="1261.70" y2="241.96" stroke="#dedede" stroke-width="0.7" />
<text x="471.70" y="243.74" transform="rotate(0.05 471.7 243.7)" font-size="5.8" fill="#4a4a4a" text-anchor="end" stroke="none" textLength="10.800" lengthAdjust="spacingAndGlyphs">-120</text>
<line x1="473.30" y1="341.72" x2="1261.70" y2="341.72" stroke="#dedede" stroke-width="0.7" />
<text x="471.70" y="343.50" transform="rotate(0.05 471.7 343.5)" font-size="5.8" fill="#4a4a4a" text-anchor="end" stroke="none" textLength="10.800" lengthAdjust="spacingAndGlyphs">-140</text>
<line x1="473.30" y1="441.48" x2="1261.70" y2="441.48" stroke="#dedede" stroke-width="0.7" />
<text x="471.70" y="443.26" transform="rotate(0.05 471.7 443.3)" font-size="5.8" fill="#4a4a4a" text-anchor="end" stroke="none" textLength="10.800" lengthAdjust="spacingAndGlyphs">-160</text>
<line x1="473.30" y1="541.24" x2="1261.70" y2="541.24" stroke="#dedede" stroke-width="0.7" />
<text x="471.70" y="543.02" transform="rotate(0.05 471.7 543.0)" font-size="5.8" fill="#4a4a4a" text-anchor="end" stroke="none" textLength="10.800" lengthAdjust="spacingAndGlyphs">-180</text>
<text x="475.40" y="646.68" transform="rotate(0.05 475.4 646.7)" font-size="5.8" fill="#4a4a4a" text-anchor="middle" stroke="none" textLength="3.2" lengthAdjust="spacingAndGlyphs">0</text>
<text x="631.60" y="646.68" transform="rotate(0.05 631.6 646.7)" font-size="5.8" fill="#4a4a4a" text-anchor="middle" stroke="none" textLength="3.2" lengthAdjust="spacingAndGlyphs">5</text>
<text x="789.60" y="646.68" transform="rotate(0.05 789.6 646.7)" font-size="5.8" fill="#4a4a4a" text-anchor="middle" stroke="none" textLength="5.8" lengthAdjust="spacingAndGlyphs">10</text>
<text x="947.60" y="646.68" transform="rotate(0.05 947.6 646.7)" font-size="5.8" fill="#4a4a4a" text-anchor="middle" stroke="none" textLength="5.8" lengthAdjust="spacingAndGlyphs">15</text>
<text x="1105.60" y="646.68" transform="rotate(0.05 1105.6 646.7)" font-size="5.8" fill="#4a4a4a" text-anchor="middle" stroke="none" textLength="5.8" lengthAdjust="spacingAndGlyphs">20</text>
<text transform="translate(456.15 372) rotate(-90)" x="0" y="0" text-anchor="middle" font-size="6.6" font-weight="700" fill="#222" textLength="50.2" lengthAdjust="spacingAndGlyphs">Amplitude (dB)</text>
<text x="843.30" y="658.11" transform="rotate(0.05 843.3 658.1)" font-size="6.7" fill="#1a1a1a" font-weight="700" textLength="49.60" lengthAdjust="spacingAndGlyphs" stroke="#1a1a1a" stroke-width="0.12">Frequency (Hz)</text>
<rect x="476.00" y="106.20" width="43.80" height="14.20" fill="#f0f0f0" />
<rect x="480.80" y="108.70" width="9.20" height="9.20" fill="#009fbd" />
<path d="M482.600 113.400l2.100 2.100l3.600-4.200" fill="none" stroke="#fff" stroke-width="1.2"/>
<line x1="493.00" y1="113.30" x2="501.90" y2="113.30" stroke="#109cbe" stroke-width="0.6" />
<text x="505.10" y="115.16" transform="rotate(0.05 505.1 115.2)" font-size="6.3" fill="#1a1a1a" font-weight="700" textLength="10.10" lengthAdjust="spacingAndGlyphs" >IN0</text>
<path d="M473.3 168.1L476.0 168.1L476.0 148.1L477.0 148.1L477.0 177.9L478.5 177.9L478.5 230.3L479.4 230.3L479.4 307.3L481.3 307.3L481.4 307.3L481.4 378.4L482.6 378.4L482.6 383.4L485.6 383.4L485.6 381.0L487.4 381.0L487.4 376.0L488.6 376.0L488.6 368.4L490.0 368.4L490.0 366.4L492.4 366.4L492.4 373.4L493.6 373.4L493.6 387.6L495.2 387.6L495.2 406.4L496.4 406.4L496.4 433.0L498.0 433.0L498.0 450.4L499.6 450.4L499.6 408.4L501.2 408.4L501.2 398.4L502.2 398.4L502.2 404.4L505.6 404.4L505.6 396.4L507.2 396.4L507.2 393.6L508.2 393.6L508.2 397.2L510.6 397.2L510.6 405.6L512.0 405.6L512.0 413.4L513.4 413.4L513.4 433.4L515.0 433.4L515.0 475.4L516.2 475.4L516.2 458.4L518.4 458.4L518.4 474.4L519.4 474.4L519.4 483.4L521.6 483.4L521.6 453.4L522.4 453.4L522.4 439.6L524.0 439.6L524.0 428.6L525.6 428.6L525.6 418.4L527.4 418.4L527.4 405.6L529.0 405.6L529.0 399.4L530.4 399.4L530.4 407.4L532.0 407.4L532.0 431.0L533.4 431.0L533.4 477.0L535.4 477.0L535.4 465.0L536.4 465.0L536.4 422.4L538.0 422.4L538.0 400.4L539.4 400.4L539.4 391.4L541.0 391.4L541.0 396.0L542.4 396.0L542.4 403.4L545.4 403.4L545.4 398.4L547.0 398.4L547.0 394.4L548.4 394.4L548.4 393.4L550.4 393.4L550.4 401.4L552.0 401.4L552.0 424.4L553.4 424.4L553.4 436.4L555.4 436.4L555.4 421.4L556.6 421.4L556.6 417.0L558.0 417.0L558.0 415.4L559.6 415.4L559.6 411.6L561.0 411.6L561.0 407.6L562.4 407.6L562.4 411.0L564.0 411.0L564.0 423.6L565.6 423.6L565.6 441.0L566.4 441.0L566.4 455.4L567.6 455.4L567.6 440.4L568.6 440.4L568.6 419.4L570.0 419.4L570.0 414.4L572.4 414.4L572.4 420.0L573.6 420.0L573.6 441.4L575.0 441.4L575.0 473.4L576.4 473.4L576.4 446.4L578.0 446.4L578.0 437.4L579.4 437.4L579.4 447.4L581.0 447.4L581.0 452.4L582.4 452.4L582.4 446.4L584.0 446.4L584.0 460.4L585.6 460.4L585.6 483.4L587.4 483.4L587.4 444.4L589.0 444.4L589.0 434.4L590.4 434.4L590.4 457.4L592.0 457.4L592.0 508.4L593.4 508.4L593.4 456.0L595.0 456.0L595.0 450.4L596.2 450.4L596.2 465.4L598.0 465.4L598.0 452.4L599.4 452.4L599.4 426.4L600.6 426.4L600.6 424.4L603.4 424.4L603.4 450.4L604.4 450.4L604.4 476.4L606.4 476.4L606.4 443.4L609.0 443.4L609.0 470.0L610.0 470.0L610.0 587.4L612.4 587.4L612.4 469.4L613.4 469.4L613.4 444.4L615.0 444.4L615.0 434.4L616.4 434.4L616.4 430.4L619.4 430.4L619.4 441.0L621.4 441.0L621.4 470.4L622.8 470.4L622.8 476.4L624.0 476.4L624.0 433.4L625.6 433.4L625.6 421.4L627.6 421.4L627.6 424.4L629.0 424.4L629.0 431.4L630.4 431.4L630.4 437.4L632.0 437.4L632.0 445.4L633.4 445.4L633.4 450.4L636.0 450.4L636.0 445.4L638.0 445.4L638.0 463.4L639.6 463.4L639.6 491.4L641.2 491.4L641.2 439.4L643.0 439.4L643.0 429.4L644.6 429.4L644.6 440.4L646.4 440.4L646.4 462.4L647.6 462.4L647.6 470.4L649.4 470.4L649.4 449.4L650.4 449.4L650.4 435.4L652.0 435.4L652.0 432.4L653.6 432.4L653.6 444.4L655.0 444.4L655.0 472.4L657.0 472.4L657.0 523.4L658.4 523.4L658.4 542.0L660.4 542.0L660.4 486.4L661.4 486.4L661.4 452.4L663.0 452.4L663.0 434.4L664.4 434.4L664.4 428.0L667.0 428.0L667.0 430.4L668.0 430.4L668.0 443.4L669.0 443.4L669.0 466.4L670.4 466.4L670.4 454.4L672.0 454.4L672.0 445.4L673.4 445.4L673.4 465.4L675.0 465.4L675.0 549.4L677.4 549.4L677.4 472.4L678.6 472.4L678.6 486.4L680.4 486.4L680.4 582.4L681.8 582.4L681.8 546.4L683.4 546.4L683.4 500.4L684.4 500.4L684.4 475.4L686.0 475.4L686.0 458.4L687.4 458.4L687.4 444.4L689.0 444.4L689.0 439.4L692.0 439.4L692.0 448.4L693.4 448.4L693.4 449.4L694.4 449.4L694.4 461.4L695.4 461.4L695.4 430.4L697.4 430.4L697.4 411.4L698.4 411.4L698.4 409.4L700.4 409.4L700.4 416.4L701.4 416.4L701.4 429.4L703.0 429.4L703.0 443.6L704.4 443.6L704.4 462.0L706.0 462.0L706.0 485.4L707.4 485.4L707.4 486.0L709.0 486.0L709.0 468.0L710.4 468.0L710.4 445.4L712.0 445.4L712.0 433.4L714.4 433.4L714.4 431.4L715.4 431.4L715.4 434.4L717.4 434.4L717.4 441.4L718.4 441.4L718.4 455.4L720.0 455.4L720.0 489.4L721.4 489.4L721.4 560.4L723.4 560.4L723.4 536.4L724.4 536.4L724.4 489.4L726.0 489.4L726.0 482.4L727.4 482.4L727.4 498.4L729.4 498.4L729.4 464.4L731.0 464.4L731.0 453.4L732.4 453.4L732.4 460.4L734.4 460.4L734.4 461.4L735.4 461.4L735.4 444.4L737.0 444.4L737.0 431.4L738.4 431.4L738.4 435.4L740.4 435.4L740.4 454.4L741.4 454.4L741.4 468.0L743.4 468.0L743.4 450.4L744.4 450.4L744.4 438.4L746.0 438.4L746.0 439.4L747.4 439.4L747.4 459.4L749.0 459.4L749.0 468.4L749.4 468.4L749.4 500.4L751.4 500.4L751.4 468.4L752.4 468.4L752.4 460.4L754.4 460.4L754.4 493.4L755.4 493.4L755.4 478.0L757.0 478.0L757.0 443.4L758.4 443.4L758.4 433.4L760.4 433.4L760.4 432.4L761.4 432.4L761.4 438.4L763.0 438.4L763.0 467.4L764.4 467.4L764.4 478.4L766.4 478.4L766.4 452.4L768.4 452.4L768.4 455.4L769.4 455.4L769.4 476.4L771.2 476.4L771.2 508.4L772.6 508.4L772.6 474.4L774.4 474.4L774.4 448.4L775.4 448.4L775.4 437.8L777.4 437.8L777.4 438.4L778.4 438.4L778.4 452.4L780.0 452.4L780.0 489.4L781.4 489.4L781.4 515.4L783.4 515.4L783.4 493.4L784.4 493.4L784.4 478.4L786.0 478.4L786.0 467.4L787.4 467.4L787.4 461.4L789.0 461.4L789.0 455.4L791.0 455.4L791.0 452.4L792.4 452.4L792.4 464.4L794.0 464.4L794.0 498.4L795.4 498.4L795.4 503.4L797.0 503.4L797.0 532.4L798.4 532.4L798.4 483.4L800.0 483.4L800.0 479.4L801.4 479.4L801.4 512.4L803.4 512.4L803.4 475.4L805.0 475.4L805.0 469.4L806.4 469.4L806.4 500.4L808.0 500.4L808.0 536.4L809.4 536.4L809.4 504.4L811.0 504.4L811.0 468.4L812.4 468.4L812.4 456.8L814.0 456.8L814.0 456.4L815.0 456.4L815.0 464.4L816.0 464.4L816.0 486.4L817.4 486.4L817.4 506.4L818.6 506.4L818.6 495.4L820.4 495.4L820.4 484.4L822.4 484.4L822.4 461.4L823.4 461.4L823.4 453.4L825.0 453.4L825.0 453.8L825.6 453.8L825.6 464.0L826.6 464.0L826.6 479.0L828.4 479.0L828.4 471.4L829.4 471.4L829.4 454.4L831.0 454.4L831.0 440.4L834.4 440.4L834.4 454.4L835.4 454.4L835.4 482.4L837.0 482.4L837.0 503.4L838.6 503.4L838.6 494.4L840.4 494.4L840.4 480.4L842.0 480.4L842.0 475.4L843.6 475.4L843.6 485.4L845.4 485.4L845.4 477.4L846.4 477.4L846.4 461.4L849.0 461.4L849.0 472.4L851.0 472.4L851.0 482.4L852.4 482.4L852.4 466.4L854.0 466.4L854.0 443.4L855.4 443.4L855.4 436.4L857.4 436.4L857.4 442.4L859.0 442.4L859.0 448.4L860.4 448.4L860.4 456.4L862.0 456.4L862.0 489.4L863.4 489.4L863.4 503.4L865.4 503.4L865.4 456.4L866.4 456.4L866.4 445.4L868.4 445.4L868.4 446.4L869.4 446.4L869.4 454.4L871.0 454.4L871.0 468.0L872.4 468.0L872.4 484.0L874.4 484.0L874.4 477.4L875.4 477.4L875.4 466.4L877.4 466.4L877.4 465.4L879.0 465.4L879.0 461.4L880.4 461.4L880.4 467.4L882.0 467.4L882.0 488.4L883.4 488.4L883.4 492.0L885.0 492.0L885.0 485.4L886.4 485.4L886.4 490.4L888.0 490.4L888.0 504.4L889.4 504.4L889.4 508.4L891.4 508.4L891.4 485.4L892.4 485.4L892.4 467.4L894.0 467.4L894.0 462.4L896.0 462.4L896.0 474.4L897.4 474.4L897.4 516.4L899.4 516.4L899.4 541.4L900.4 541.4L900.4 547.4L902.4 547.4L902.4 516.4L903.4 516.4L903.4 485.4L905.4 485.4L905.4 481.4L906.4 481.4L906.4 493.4L908.4 493.4L908.4 482.4L909.4 482.4L909.4 469.4L911.4 469.4L911.4 466.4L912.4 466.4L912.4 472.0L914.0 472.0L914.0 478.4L916.0 478.4L916.0 466.4L917.4 466.4L917.4 462.4L919.4 462.4L919.4 481.4L920.4 481.4L920.4 559.4L922.4 559.4L922.4 473.4L923.4 473.4L923.4 456.4L925.4 456.4L925.4 447.4L926.4 447.4L926.4 439.4L929.0 439.4L929.0 440.4L929.6 440.4L929.6 457.4L931.4 457.4L931.4 493.4L933.0 493.4L933.0 523.4L934.4 523.4L934.4 497.4L936.0 497.4L936.0 496.4L937.4 496.4L937.4 522.4L939.4 522.4L939.4 512.4L940.4 512.4L940.4 483.4L942.4 483.4L942.4 471.4L943.6 471.4L943.6 480.4L945.4 480.4L945.4 501.4L946.4 501.4L946.4 511.4L948.0 511.4L948.0 594.4L949.4 594.4L949.4 498.4L951.4 498.4L951.4 470.4L953.4 470.4L953.4 468.4L954.4 468.4L954.4 485.4L956.4 485.4L956.4 487.4L957.4 487.4L957.4 462.4L959.4 462.4L959.4 457.4L960.4 457.4L960.4 465.4L962.4 465.4L962.4 488.4L963.6 488.4L963.6 525.4L965.4 525.4L965.4 481.4L966.4 481.4L966.4 466.4L969.0 466.4L969.0 467.4L970.4 467.4L970.4 464.4L971.4 464.4L971.4 457.4L973.4 457.4L973.4 460.4L974.4 460.4L974.4 470.4L976.4 470.4L976.4 468.4L977.4 468.4L977.4 457.4L979.4 457.4L979.4 455.4L980.6 455.4L980.6 464.4L982.4 464.4L982.4 475.4L984.0 475.4L984.0 482.4L985.4 482.4L985.4 486.4L987.4 486.4L987.4 481.4L988.4 481.4L988.4 469.4L990.4 469.4L990.4 466.4L991.4 466.4L991.4 471.4L993.4 471.4L993.4 482.4L994.4 482.4L994.4 508.4L996.4 508.4L996.4 542.4L997.4 542.4L997.4 534.4L999.4 534.4L999.4 502.4L1000.4 502.4L1000.4 481.4L1002.4 481.4L1002.4 484.4L1003.4 484.4L1003.4 497.4L1005.4 497.4L1005.4 492.4L1007.0 492.4L1007.0 485.4L1008.4 485.4L1008.4 482.4L1010.4 482.4L1010.4 480.4L1012.4 480.4L1012.4 481.4L1013.4 481.4L1013.4 478.4L1014.4 478.4L1014.4 474.4L1016.4 474.4L1016.4 475.4L1017.4 475.4L1017.4 478.4L1019.4 478.4L1019.4 471.4L1020.4 471.4L1020.4 464.4L1022.4 464.4L1022.4 463.4L1024.4 463.4L1024.4 467.4L1025.4 467.4L1025.4 475.4L1027.4 475.4L1027.4 483.4L1028.4 483.4L1028.4 489.4L1030.4 489.4L1030.4 498.4L1031.6 498.4L1031.6 489.4L1033.4 489.4L1033.4 481.4L1035.4 481.4L1035.4 481.4L1036.4 481.4L1036.4 475.4L1037.4 475.4L1037.4 469.4L1039.4 469.4L1039.4 472.4L1040.4 472.4L1040.4 483.4L1042.4 483.4L1042.4 491.4L1043.4 491.4L1043.4 492.4L1044.4 492.4L1044.4 485.4L1045.6 485.4L1045.6 490.4L1047.4 490.4L1047.4 513.4L1048.6 513.4L1048.6 493.4L1050.4 493.4L1050.4 481.4L1052.4 481.4L1052.4 483.4L1053.4 483.4L1053.4 490.4L1055.0 490.4L1055.0 499.4L1056.4 499.4L1056.4 522.4L1057.4 522.4L1057.4 540.4L1059.4 540.4L1059.4 525.4L1059.4 525.4L1059.4 525.4L1061.0 525.4L1061.0 531.4L1062.4 531.4L1062.4 510.4L1064.0 510.4L1064.0 494.4L1065.4 494.4L1065.4 503.4L1067.0 503.4L1067.0 521.4L1068.4 521.4L1068.4 490.4L1070.4 490.4L1070.4 473.4L1071.4 473.4L1071.4 471.4L1073.0 471.4L1073.0 475.4L1074.4 475.4L1074.4 474.4L1076.0 474.4L1076.0 473.4L1077.4 473.4L1077.4 488.4L1079.4 488.4L1079.4 541.4L1081.0 541.4L1081.0 550.4L1082.4 550.4L1082.4 519.4L1084.4 519.4L1084.4 488.4L1085.4 488.4L1085.4 470.4L1087.4 470.4L1087.4 464.4L1088.4 464.4L1088.4 466.4L1090.4 466.4L1090.4 471.4L1091.4 471.4L1091.4 480.4L1093.4 480.4L1093.4 488.4L1094.4 488.4L1094.4 485.4L1096.0 485.4L1096.0 480.4L1098.4 480.4L1098.4 494.4L1099.4 494.4L1099.4 540.4L1101.4 540.4L1101.4 497.4L1102.4 497.4L1102.4 487.4L1104.4 487.4L1104.4 501.4L1105.4 501.4L1105.4 525.4L1107.4 525.4L1107.4 494.4L1108.4 494.4L1108.4 481.4L1110.4 481.4L1110.4 501.4L1111.4 501.4L1111.4 564.4L1113.4 564.4L1113.4 493.4L1115.4 493.4L1115.4 481.4L1118.4 481.4L1118.4 499.4L1119.4 499.4L1119.4 557.4L1121.4 557.4L1121.4 493.4L1122.4 493.4L1122.4 485.4L1124.4 485.4L1124.4 518.4L1125.8 518.4L1125.8 507.4L1127.0 507.4L1127.0 484.4L1128.4 484.4L1128.4 492.4L1130.4 492.4L1130.4 510.4L1131.4 510.4L1131.4 517.4L1133.4 517.4L1133.4 508.4L1135.4 508.4L1135.4 500.4L1137.0 500.4L1137.0 510.4L1138.4 510.4L1138.4 548.4L1139.8 548.4L1139.8 483.4L1141.4 483.4L1141.4 467.4L1142.6 467.4L1142.6 477.4L1144.4 477.4L1144.4 511.4L1145.4 511.4L1145.4 561.4L1147.0 561.4L1147.0 591.4L1148.4 591.4L1148.4 543.4L1150.0 543.4L1150.0 527.4L1152.4 527.4L1152.4 562.4L1153.6 562.4L1153.6 556.4L1155.4 556.4L1155.4 538.4L1156.4 538.4L1156.4 579.4L1158.4 579.4L1158.4 532.4L1159.6 532.4L1159.6 547.4L1161.0 547.4L1161.0 577.4L1162.6 577.4L1162.6 525.4L1164.4 525.4L1164.4 517.4L1166.4 517.4L1166.4 519.4L1167.4 519.4L1167.4 516.4L1168.4 516.4L1168.4 504.4L1170.4 504.4L1170.4 499.4L1172.4 499.4L1172.4 502.4L1173.4 502.4L1173.4 496.4L1175.4 496.4L1175.4 492.4L1177.4 492.4L1177.4 494.4L1178.4 494.4L1178.4 493.4L1180.4 493.4L1180.4 495.4L1181.4 495.4L1181.4 497.4L1182.4 497.4L1182.4 504.4L1184.4 504.4L1184.4 523.4L1185.4 523.4L1185.4 537.4L1187.4 537.4L1187.4 546.4L1190.4 546.4L1190.4 525.4L1192.4 525.4L1192.4 501.4L1193.4 501.4L1193.4 478.4L1195.4 478.4L1195.4 462.4L1196.4 462.4L1196.4 459.4L1198.4 459.4L1198.4 468.4L1199.4 468.4L1199.4 492.4L1201.4 492.4L1201.4 511.4L1202.6 511.4L1202.6 495.4L1204.4 495.4L1204.4 487.4L1206.4 487.4L1206.4 490.4L1207.4 490.4L1207.4 493.4L1209.0 493.4L1209.0 498.4L1210.4 498.4L1210.4 516.4L1212.4 516.4L1212.4 526.4L1213.6 526.4L1213.6 508.4L1215.4 508.4L1215.4 501.4L1216.6 501.4L1216.6 507.4L1218.4 507.4L1218.4 543.4L1221.4 543.4L1221.4 515.4L1222.6 515.4L1222.6 524.4L1224.4 524.4L1224.4 546.4L1226.4 546.4L1226.4 502.4L1227.4 502.4L1227.4 479.4L1229.4 479.4L1229.4 469.4L1231.4 469.4L1231.4 468.4L1232.4 468.4L1232.4 481.4L1233.4 481.4L1233.4 530.4L1236.4 530.4L1236.4 499.4L1238.4 499.4L1238.4 503.4L1239.4 503.4L1239.4 564.4L1241.4 564.4L1241.4 514.4L1242.4 514.4L1242.4 485.4L1244.4 485.4L1244.4 477.4L1247.4 477.4L1247.4 481.4L1249.0 481.4L1249.0 492.4L1250.4 492.4L1250.4 519.4L1252.4 519.4L1252.4 592.4L1253.6 592.4L1253.6 510.4L1255.2 510.4L1255.2 499.0L1256.6 499.0L1256.6 513.4L1258.4 513.4L1258.4 558.2L1259.4 558.2L1259.4 586.6L1261.6 586.6L1261.6 558.8L1261.7 558.8" fill="none" stroke="#47b6cf" stroke-width="0.78" stroke-linejoin="miter"/>
<path d="M473.30 135.47a2.1 2.1 0 0 1 0 4.2z" fill="#0aa0c2"/>
<circle cx="490.27" cy="137.57" r="2.1" fill="#0aa0c2"/>
<circle cx="507.24" cy="323.97" r="2.1" fill="#0aa0c2"/>
<circle cx="524.21" cy="336.94" r="2.1" fill="#0aa0c2"/>
<circle cx="541.18" cy="338.89" r="2.1" fill="#0aa0c2"/>
<circle cx="558.18" cy="341.06" r="2.1" fill="#0aa0c2"/>
<circle cx="698.58" cy="378.96" r="2.1" fill="#0aa0c2"/>
<rect x="478.30" y="663.30" width="778.00" height="7.10" fill="#ffffff" stroke="#4a4a4a" stroke-width="0.7" rx="0.6" />
<path d="M484.700 664.800v3.800l-4-1.900z" fill="#111"/>
<path d="M1250.100 664.800v3.800l4-1.900z" fill="#111"/>
<text x="105.60" y="692.78" transform="rotate(0.05 105.6 692.8)" font-size="6.1" fill="#222" stroke="#222" stroke-width="0.16" textLength="164.40" lengthAdjust="spacingAndGlyphs" >State=Good, ADAQ7768-1 Analysis - CheckState, Finished at 8:52:28</text>
<g transform="translate(0.8 0.5)">
<circle cx="1238" cy="690.6" r="4.6" fill="#fff" stroke="#009fbd" stroke-width="0.8"/>
<path d="M1238 689.4v3.4 M1236.8 692.9h2.4 M1237 689.5h1" stroke="#009fbd" stroke-width="0.9" fill="none"/><circle cx="1238" cy="687.8" r="0.65" fill="#009fbd"/>
<rect x="1245.40" y="683.50" width="13.70" height="14.10" fill="#e4e4e4" />
<rect x="1261.30" y="683.50" width="13.70" height="14.10" fill="#e4e4e4" />
<path d="M1249.6 687.2h2v2h-2z M1252.6 687.6h2.6 M1251 690.4v2 M1249 693.6h6.4 M1252.4 691h2.4v1.6h-2.4z" fill="none" stroke="#009fbd" stroke-width="0.8"/>
<path d="M1264.6 686.6h7v7.4h-7z M1264.6 686.6l7 7.4 M1271.6 686.6l-7 7.4" fill="none" stroke="#009fbd" stroke-width="0.8"/><rect x="1266.6" y="688.8" width="3" height="3" fill="#009fbd"/>
</g>
</svg></body></html>
